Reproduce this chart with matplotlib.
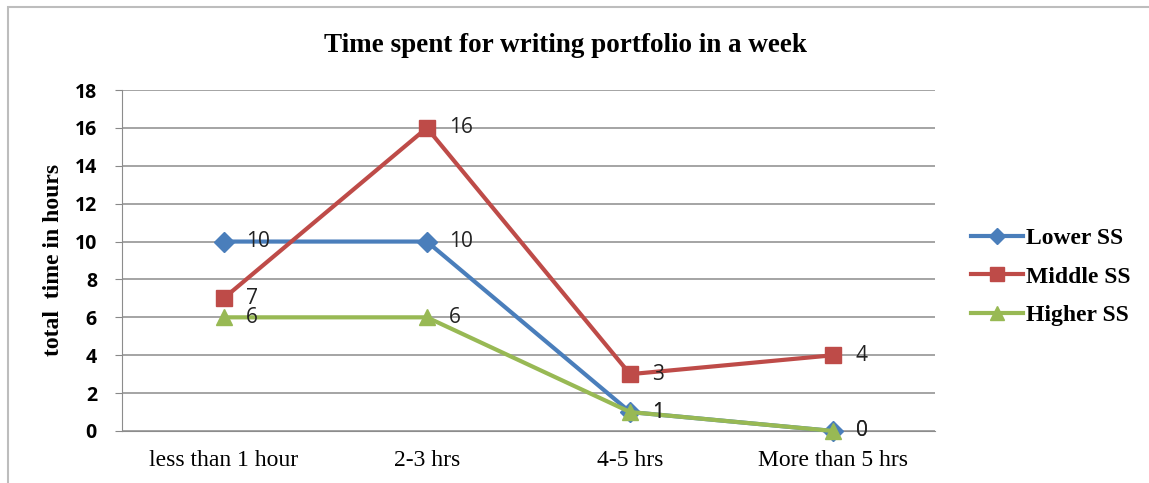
import matplotlib
matplotlib.use("Agg")
import matplotlib.pyplot as plt
from matplotlib.patches import Rectangle

categories = ["less than 1 hour", "2-3 hrs", "4-5 hrs", "More than 5 hrs"]
lower_ss = [10, 10, 1, 0]
middle_ss = [7, 16, 3, 4]
higher_ss = [6, 6, 1, 0]
series_names = ["Lower SS", "Middle SS", "Higher SS"]
y_ticks = [0, 2, 4, 6, 8, 10, 12, 14, 16, 18]

W, H = 1149, 483
fig = plt.figure(figsize=(W / 100, H / 100), dpi=100)
fig.patch.set_facecolor("white")

# outer chart frame (partly clipped at right/bottom)
fig.patches.append(Rectangle((8 / W, -0.05), 1.1, 1 - 7 / H + 0.05,
                             transform=fig.transFigure, fill=False,
                             edgecolor="#bdbdbd", linewidth=1.5, zorder=0))

ax = fig.add_axes([122 / W, 1 - 431 / H, (935 - 122) / W, (431 - 90) / H])
x = list(range(len(categories)))

styles = [
    (lower_ss, "#4A7EBB", "D", 10.5),
    (middle_ss, "#BE4B48", "s", 12),
    (higher_ss, "#98B954", "^", 12),
]
for (vals, col, mk, ms), name in zip(styles, series_names):
    ax.plot(x, vals, color=col, linewidth=3, marker=mk, markersize=ms,
            markeredgecolor=col, markerfacecolor=col, label=name, zorder=3,
            clip_on=False)
    for xi, v in zip(x, vals):
        ax.annotate(str(v), (xi, v), xytext=(16, 0), textcoords="offset points",
                    ha="left", va="center", fontsize=15, color="#222222",
                    family="Open Sans", zorder=4)

ax.set_xlim(-0.5, 3.5)
ax.set_ylim(0, 18)
ax.set_yticks(y_ticks)
ax.set_xticks(x)
ax.set_xticklabels(categories, family="Liberation Serif", fontsize=17)
for lbl in ax.get_yticklabels():
    lbl.set_fontweight("bold")
    lbl.set_fontsize(14)
    lbl.set_family("Open Sans")
ax.tick_params(axis="y", length=5, color="#888888", pad=13)
ax.tick_params(axis="x", length=0, pad=14)
ax.grid(axis="y", color="#8c8c8c", linewidth=1.1)
ax.set_axisbelow(True)
for s in ["top", "right"]:
    ax.spines[s].set_visible(False)
ax.spines["left"].set_color("#8c8c8c")
ax.spines["bottom"].set_color("#8c8c8c")

ax.set_ylabel("total  time in hours", family="Liberation Serif",
              fontweight="bold", fontsize=17)
ax.yaxis.set_label_coords(64 / W, 1 - 260 / H, transform=fig.transFigure)

fig.text(565 / W, 1 - 46 / H, "Time spent for writing portfolio in a week",
         ha="center", va="center", family="Liberation Serif",
         fontweight="bold", fontsize=19.5)

leg = ax.legend(loc="center left", bbox_to_anchor=(950 / W, 1 - 277 / H),
                bbox_transform=fig.transFigure, frameon=False,
                prop={"family": "Liberation Serif", "weight": "bold", "size": 17},
                handlelength=2.2, handletextpad=0.1, labelspacing=0.72,
                markerscale=0.8)

fig.savefig("out.png", dpi=100, facecolor="white")
